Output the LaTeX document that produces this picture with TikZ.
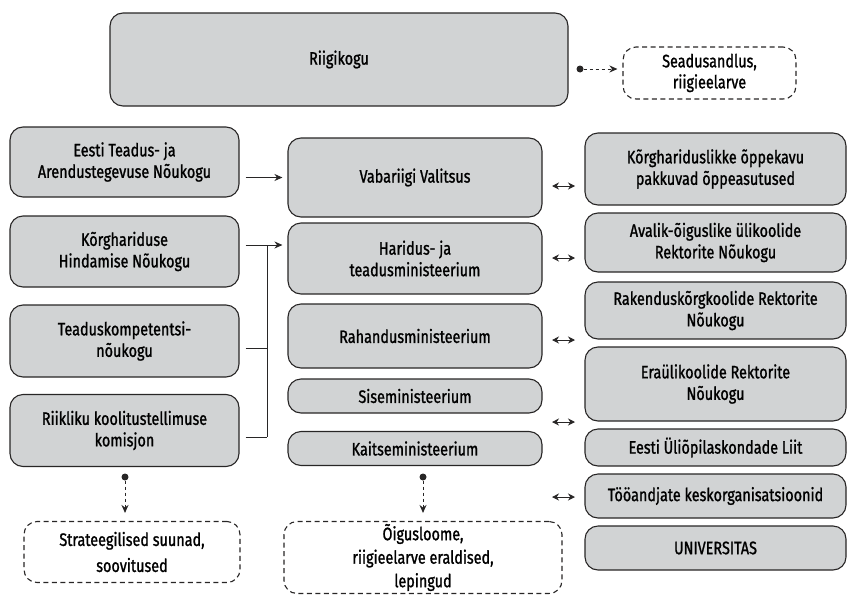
\documentclass[tikz,border=0pt]{standalone}
\usepackage{fontspec}
\setmainfont{Fira Sans}[FakeStretch=0.8, FakeBold=1.2]
\usetikzlibrary{arrows.meta}

\definecolor{boxgray}{RGB}{209,211,212}
\definecolor{edgegray}{RGB}{40,38,38}

\begin{document}
\begin{tikzpicture}[x=1pt,y=-1pt,
    box/.style={draw=edgegray, line width=1.1pt, fill=boxgray, rounded corners=13pt,
      align=center, inner sep=0pt, font=\fontsize{18}{21.5}\selectfont},
    result/.style={box, fill=white, dash pattern=on 5pt off 3.5pt, font=\fontsize{18}{26}\selectfont},
    arr/.style={draw=edgegray, line width=1pt, -{Stealth[length=8pt,width=7pt]}},
    darr/.style={draw=edgegray, line width=1pt,
      {Stealth[length=7pt,width=7pt]}-{Stealth[length=7pt,width=7pt]}},
    flow/.style={arr, dash pattern=on 3.5pt off 2.5pt},
    dot/.style={circle, fill=edgegray, inner sep=0pt, minimum size=7pt}]
  \useasboundingbox (0,0) rectangle (853,597);

  % top
  \node[box, minimum width=458pt, minimum height=93pt] (riigikogu) at (339,59.5) {Riigikogu};
  \node[result, minimum width=173pt, minimum height=52pt, font=\fontsize{18}{21}\selectfont] (seadus) at (709.5,73) {Seadusandlus,\\riigieelarve};
  \node[dot] (dtop) at (580,69) {};
  \draw[flow, shorten >=5pt] (dtop) -- (seadus.west |- dtop);

  % left column
  \node[box, minimum width=229pt, minimum height=70pt] (arendus) at (124.5,162) {Eesti Teadus- ja\\Arendustegevuse Nõukogu};
  \node[box, minimum width=229pt, minimum height=71pt] (hindamine) at (124.5,251.5) {Kõrghariduse\\Hindamise Nõukogu};
  \node[box, minimum width=229pt, minimum height=72pt] (kompetents) at (124.5,341) {Teaduskompetentsi-\\nõukogu};
  \node[box, minimum width=229pt, minimum height=72pt] (komisjon) at (124.5,430.5) {Riikliku koolitustellimuse\\komisjon};

  % middle column
  \node[box, minimum width=254pt, minimum height=79pt] (valitsus) at (415,177.5) {Vabariigi Valitsus};
  \node[box, minimum width=254pt, minimum height=71pt] (haridus) at (415,258.5) {Haridus- ja\\teadusministeerium};
  \node[box, minimum width=254pt, minimum height=64pt] (rahandus) at (415,336) {Rahandusministeerium};
  \node[box, minimum width=254pt, minimum height=34pt] (sise) at (415,396) {Siseministeerium};
  \node[box, minimum width=254pt, minimum height=34pt] (kaitse) at (415,448.5) {Kaitseministeerium};

  % right column
  \node[box, minimum width=261pt, minimum height=72pt] (oppeasutus) at (715.5,169) {Kõrghariduslikke õppekavu\\pakkuvad õppeasutused};
  \node[box, minimum width=261pt, minimum height=59pt] (avalik) at (715.5,242.5) {Avalik-õiguslike ülikoolide\\Rektorite Nõukogu};
  \node[box, minimum width=261pt, minimum height=57pt] (rakendus) at (715.5,310.5) {Rakenduskõrgkoolide Rektorite\\Nõukogu};
  \node[box, minimum width=261pt, minimum height=74pt] (erayl) at (715.5,384) {Eraülikoolide Rektorite\\Nõukogu};
  \node[box, minimum width=261pt, minimum height=37pt] (liit) at (715.5,447.5) {Eesti Üliõpilaskondade Liit};
  \node[box, minimum width=261pt, minimum height=44pt] (tooandjad) at (715.5,496) {Tööandjate keskorganisatsioonid};
  \node[box, minimum width=261pt, minimum height=44pt] (universitas) at (715.5,548) {UNIVERSITAS};

  % results
  \node[result, minimum width=216pt, minimum height=61pt, font=\fontsize{18}{26}\selectfont] (suunad) at (132,552) {Strateegilised suunad,\\soovitused};
  \node[result, minimum width=278pt, minimum height=72pt, font=\fontsize{18}{23.5}\selectfont] (oigus) at (423,557.5) {Õigusloome,\\riigieelarve eraldised,\\lepingud};

  % connectors
  \draw[arr, shorten <=6pt, shorten >=5pt] (arendus.east |- valitsus) -- (valitsus.west);
  \coordinate (jtop) at (267,245);
  \coordinate (jbot) at (267,437);
  \draw[arr, shorten <=6pt, shorten >=5pt] (hindamine.east |- jtop) -- (haridus.west |- jtop);
  \draw[edgegray, line width=1pt] (jtop) -- (jbot);
  \draw[edgegray, line width=1pt, shorten <=6pt] ([yshift=-7pt]kompetents.east) -- ([yshift=-7pt]kompetents.east -| jtop);
  \draw[edgegray, line width=1pt, shorten <=6pt] (komisjon.east |- jbot) -- (jbot);

  \node[dot] (dleft) at (125,477) {};
  \draw[flow, shorten >=8pt] (dleft) -- (dleft |- suunad.north);
  \node[dot] (dmid) at (423,477) {};
  \draw[flow, shorten >=8pt] (dmid) -- (oigus.north);

  \foreach \yy [count=\i] in {186,258,340,422,497} {
    \coordinate (da\i) at (552,\yy);
    \coordinate (db\i) at (575,\yy);
    \draw[darr] (da\i) -- (db\i);
  }
\end{tikzpicture}
\end{document}
